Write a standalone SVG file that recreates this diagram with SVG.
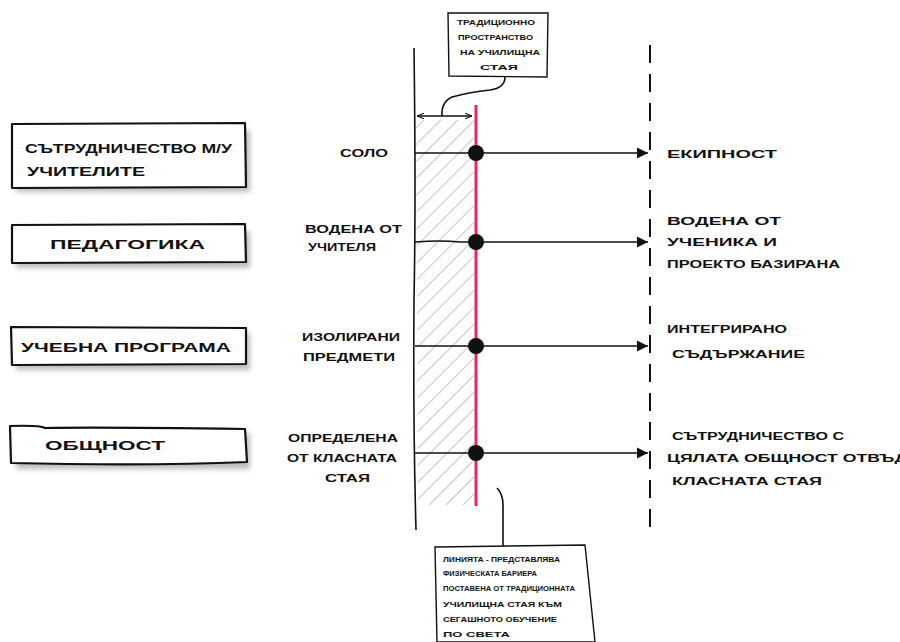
<svg xmlns="http://www.w3.org/2000/svg" width="900" height="642" viewBox="0 0 900 642">
<style>
.box{fill:#fff;stroke:#111;stroke-width:2.2;stroke-linejoin:round}
.note{fill:#fff;stroke:#111;stroke-width:1.4}
.shadow{fill:#bdbdbd;filter:url(#blur)}
.t{font-family:"Liberation Sans",Arial,sans-serif;font-weight:bold;fill:#111}
.big{font-size:13px}
.mid{font-size:11px}
.sm{font-size:6.5px}
.ln{stroke:#111;stroke-width:1.6;fill:none}
</style>
<defs>
<filter id="blur" x="-10%" y="-30%" width="120%" height="160%"><feGaussianBlur stdDeviation="2.5"/></filter>
<pattern id="hatch" width="12" height="12" patternUnits="userSpaceOnUse" patternTransform="rotate(45)">
<line x1="0" y1="0" x2="0" y2="12" stroke="#8a8a8a" stroke-width="1"/>
</pattern>
<marker id="arr" viewBox="0 0 10 10" refX="10" refY="5" markerWidth="11" markerHeight="12" markerUnits="userSpaceOnUse" orient="auto">
<path d="M0,0 L10,5 L0,10 Z" fill="#111"/>
</marker>
<marker id="dim" viewBox="0 0 10 10" refX="10" refY="5" markerWidth="7" markerHeight="7" markerUnits="userSpaceOnUse" orient="auto-start-reverse">
<path d="M0,1 L10,5 L0,9" fill="none" stroke="#111" stroke-width="1.5"/>
</marker>
</defs>
<rect width="900" height="642" fill="#fff"/>

<!-- hatched zone -->
<path d="M416,120 L474,120 L474,505 L418,505 Z" fill="url(#hatch)"/>

<!-- left boxes -->
<g id="n-sutrudnichestvo">
<rect class="shadow" x="16" y="130" width="234" height="62"/>
<path class="box" d="M12,124 L245,123 L246,187 L12,188 Z"/>
<text class="t big" x="25" y="153" textLength="207" lengthAdjust="spacingAndGlyphs">СЪТРУДНИЧЕСТВО М/У</text>
<text class="t big" x="27" y="176" textLength="118" lengthAdjust="spacingAndGlyphs">УЧИТЕЛИТЕ</text>
</g>
<g id="n-pedagogika">
<rect class="shadow" x="16" y="231" width="234" height="37"/>
<path class="box" d="M12,225 L245,224 L246,262 L12,263 Z"/>
<text class="t big" x="50" y="249" textLength="155" lengthAdjust="spacingAndGlyphs">ПЕДАГОГИКА</text>
</g>
<g id="n-programa">
<rect class="shadow" x="16" y="333" width="234" height="37"/>
<path class="box" d="M11,327 L246,328 L246,364 L12,365 Z"/>
<text class="t big" x="21" y="352" textLength="210" lengthAdjust="spacingAndGlyphs">УЧЕБНА ПРОГРАМА</text>
</g>
<g id="n-obshtnost">
<rect class="shadow" x="16" y="433" width="234" height="36"/>
<path class="box" d="M10,426 Q40,425 45,428 Q100,427 245,429 L247,462 Q150,466 11,463 Z"/>
<text class="t big" x="45" y="450" textLength="120" lengthAdjust="spacingAndGlyphs">ОБЩНОСТ</text>
</g>

<!-- middle labels -->
<g id="l-solo"><text class="t mid" x="340" y="157" textLength="48" lengthAdjust="spacingAndGlyphs">СОЛО</text></g>
<g id="l-vodena-uchitel">
<text class="t mid" x="305" y="233" textLength="97" lengthAdjust="spacingAndGlyphs">ВОДЕНА ОТ</text>
<text class="t mid" x="308" y="251" textLength="68" lengthAdjust="spacingAndGlyphs">УЧИТЕЛЯ</text>
</g>
<g id="l-izolirani">
<text class="t mid" x="302" y="341" textLength="98" lengthAdjust="spacingAndGlyphs">ИЗОЛИРАНИ</text>
<text class="t mid" x="303" y="361" textLength="92" lengthAdjust="spacingAndGlyphs">ПРЕДМЕТИ</text>
</g>
<g id="l-opredelena">
<text class="t mid" x="288" y="442" textLength="110" lengthAdjust="spacingAndGlyphs">ОПРЕДЕЛЕНА</text>
<text class="t mid" x="287" y="462" textLength="110" lengthAdjust="spacingAndGlyphs">ОТ КЛАСНАТА</text>
<text class="t mid" x="325" y="482" textLength="45" lengthAdjust="spacingAndGlyphs">СТАЯ</text>
</g>

<!-- right labels -->
<g id="r-ekipnost"><text class="t mid" x="667" y="158" textLength="110" lengthAdjust="spacingAndGlyphs">ЕКИПНОСТ</text></g>
<g id="r-vodena-uchenik">
<text class="t mid" x="667" y="225" textLength="114" lengthAdjust="spacingAndGlyphs">ВОДЕНА ОТ</text>
<text class="t mid" x="667" y="246" textLength="110" lengthAdjust="spacingAndGlyphs">УЧЕНИКА И</text>
<text class="t mid" x="667" y="268" textLength="173" lengthAdjust="spacingAndGlyphs">ПРОЕКТО БАЗИРАНА</text>
</g>
<g id="r-integrirano">
<text class="t mid" x="667" y="333" textLength="120" lengthAdjust="spacingAndGlyphs">ИНТЕГРИРАНО</text>
<text class="t mid" x="672" y="358" textLength="133" lengthAdjust="spacingAndGlyphs">СЪДЪРЖАНИЕ</text>
</g>
<g id="r-obshtnost">
<text class="t mid" x="672" y="440" textLength="172" lengthAdjust="spacingAndGlyphs">СЪТРУДНИЧЕСТВО С</text>
<text class="t mid" x="667" y="462" textLength="240" lengthAdjust="spacingAndGlyphs">ЦЯЛАТА ОБЩНОСТ ОТВЪД</text>
<text class="t mid" x="672" y="485" textLength="150" lengthAdjust="spacingAndGlyphs">КЛАСНАТА СТАЯ</text>
</g>

<!-- notes -->
<g id="note-top">
<path class="note" d="M448,13 L548,13 L547,77 L449,76 Z"/>
<text class="t sm" x="457" y="25" textLength="78" lengthAdjust="spacingAndGlyphs">ТРАДИЦИОННО</text>
<text class="t sm" x="458" y="40" textLength="75" lengthAdjust="spacingAndGlyphs">ПРОСТРАНСТВО</text>
<text class="t sm" x="460" y="55" textLength="80" lengthAdjust="spacingAndGlyphs">НА УЧИЛИЩНА</text>
<text class="t sm" x="480" y="70" textLength="38" lengthAdjust="spacingAndGlyphs">СТАЯ</text>
</g>
<g id="note-bottom">
<path class="note" d="M435,547 L585,545 L595,642 L437,642 Z"/>
<text class="t sm" x="443" y="562" textLength="117" lengthAdjust="spacingAndGlyphs">ЛИНИЯТА - ПРЕДСТАВЛЯВА</text>
<text class="t sm" x="443" y="576" textLength="94" lengthAdjust="spacingAndGlyphs">ФИЗИЧЕСКАТА БАРИЕРА</text>
<text class="t sm" x="443" y="591" textLength="132" lengthAdjust="spacingAndGlyphs">ПОСТАВЕНА ОТ ТРАДИЦИОННАТА</text>
<text class="t sm" x="443" y="607" textLength="119" lengthAdjust="spacingAndGlyphs">УЧИЛИЩНА СТАЯ КЪМ</text>
<text class="t sm" x="443" y="622" textLength="114" lengthAdjust="spacingAndGlyphs">СЕГАШНОТО ОБУЧЕНИЕ</text>
<text class="t sm" x="443" y="637" textLength="67" lengthAdjust="spacingAndGlyphs">ПО СВЕТА</text>
</g>

<!-- connectors -->
<g id="connectors">
<path class="ln" d="M414,48 Q416,200 414,300 Q413,420 416,530" stroke-width="2"/>
<line x1="650" y1="45" x2="650" y2="535" stroke="#111" stroke-width="2" stroke-dasharray="18,11"/>
<line x1="476" y1="105" x2="476" y2="506" stroke="#f0245a" stroke-width="3"/>
<line x1="417" y1="116" x2="472" y2="116" stroke="#111" stroke-width="1.3" marker-start="url(#dim)" marker-end="url(#dim)"/>
<path class="ln" d="M442,116 Q441,102 452,97 Q470,92 490,90 Q505,88 505,77" stroke-width="1.8"/>
<path class="ln" d="M497,488 Q503,494 503,505 L503,546" stroke-width="1.8"/>
<path class="ln" d="M415,153 L648,153" marker-end="url(#arr)"/>
<path class="ln" d="M415,242 Q440,240 460,242 L648,242" marker-end="url(#arr)"/>
<path class="ln" d="M415,346 L648,346" marker-end="url(#arr)"/>
<path class="ln" d="M415,453 L648,453" marker-end="url(#arr)"/>
<circle cx="476" cy="153" r="8" fill="#111"/>
<circle cx="476" cy="242" r="8" fill="#111"/>
<circle cx="476" cy="346" r="8" fill="#111"/>
<circle cx="476" cy="453" r="8" fill="#111"/>
</g>
</svg>
